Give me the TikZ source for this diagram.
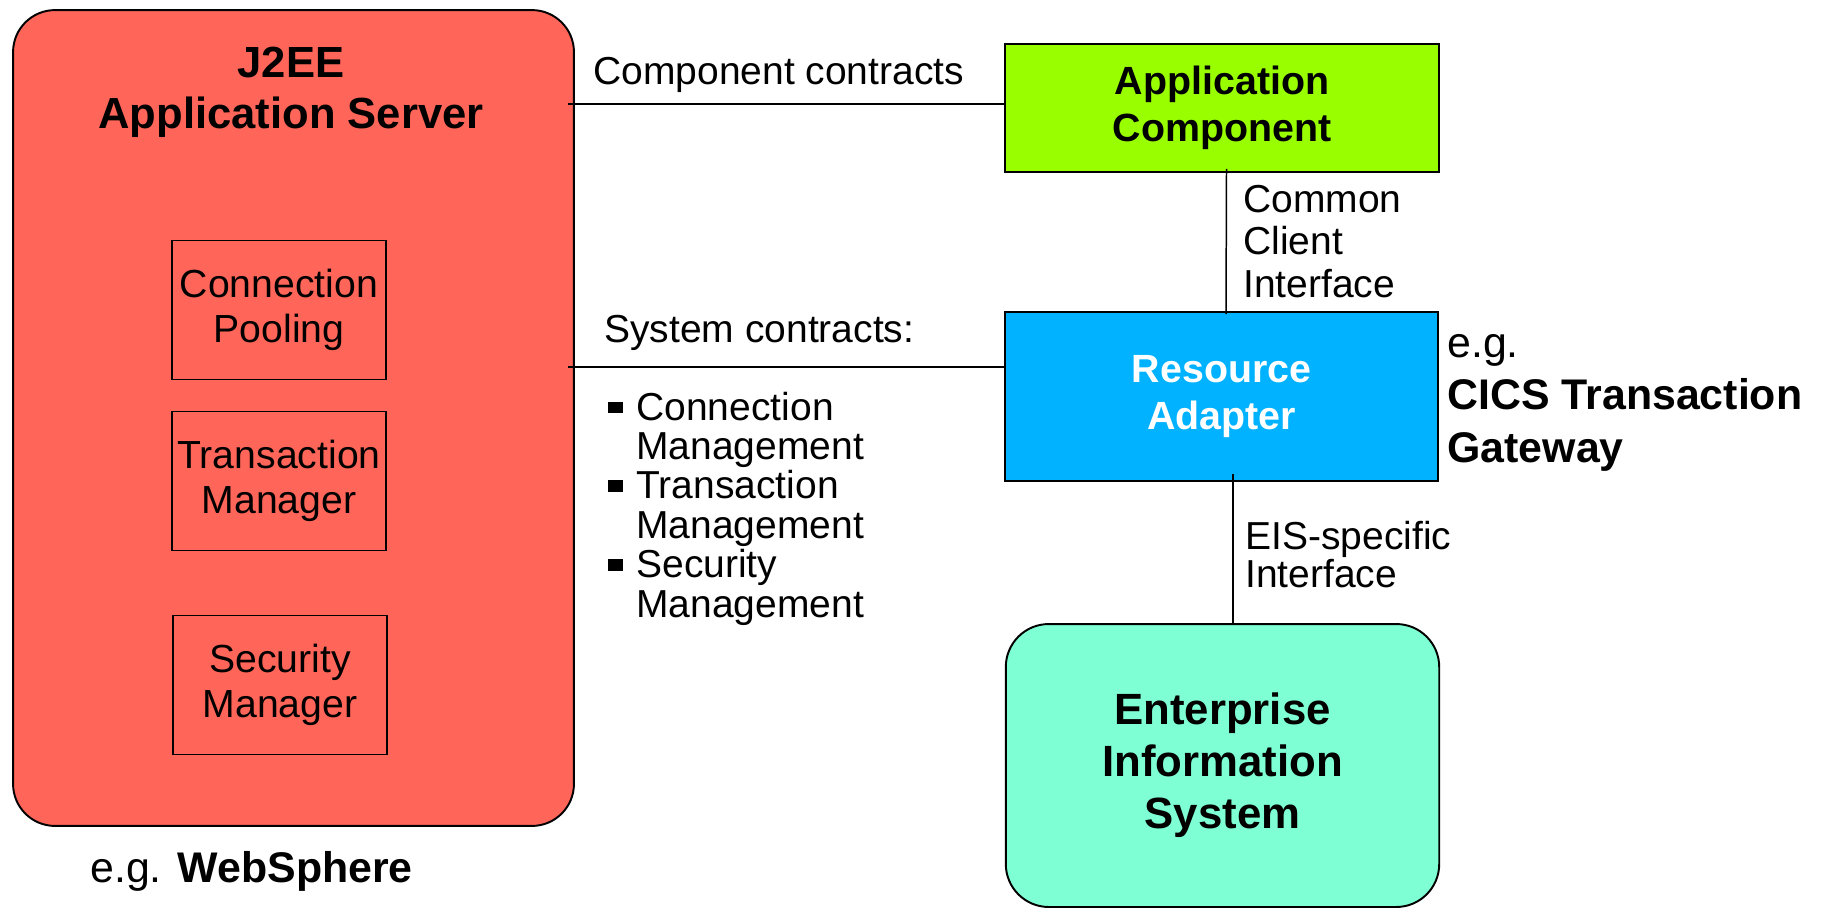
\documentclass[tikz,border=0pt]{standalone}
\usepackage{fontspec}
\setmainfont{Liberation Sans}
\definecolor{serverred}{RGB}{255,102,89}
\definecolor{compgreen}{RGB}{153,255,0}
\definecolor{adapterblue}{RGB}{0,178,255}
\definecolor{eisaqua}{RGB}{127,255,212}
\newcommand{\sqb}{\makebox[0.72em][l]{\rule[0.18em]{0.38em}{0.3em}}}
\tikzset{
  wire/.style={line width=0.85pt},
  svcbox/.style={draw,line width=0.9pt,minimum width=4.28cm,minimum height=2.78cm,
    align=center,inner sep=0pt,font=\fontsize{22.3pt}{25.5pt}\selectfont},
  unitbox/.style={draw,line width=1.1pt,minimum width=8.67cm,align=center,inner sep=0pt},
  plain/.style={inner sep=0pt,font=\fontsize{22.2pt}{25.5pt}\selectfont}
}
\begin{document}
\begin{tikzpicture}[x=0.02cm,y=-0.02cm]
\useasboundingbox (0,0) rectangle (1824,910);

% Application server with its services
\node[draw,line width=1.1pt,fill=serverred,rounded corners=0.84cm,
  minimum width=11.22cm,minimum height=16.32cm] (server) at (293.5,418) {};
\node[inner sep=0pt,anchor=base,align=center,
  font=\fontsize{24.8pt}{28.9pt}\selectfont\bfseries] (servertitle) at (291,128) {J2EE\\Application Server};
\node[svcbox] (pooling) at (279,310) {Connection\\Pooling};
\node[svcbox] (txmgr) at (279,481) {Transaction\\Manager};
\node[svcbox] (secmgr) at (280,685) {Security\\Manager};
\node[plain,anchor=base west,font=\fontsize{24.4pt}{29.8pt}\selectfont] (wasnote) at (90,882) {e.g. \textbf{WebSphere}};

% Right column
\node[unitbox,fill=compgreen,minimum height=2.56cm,
  font=\fontsize{22.4pt}{26.6pt}\selectfont\bfseries] (appcomp) at (1222,108) {Application\\Component};
\node[unitbox,fill=adapterblue,text=white,minimum height=3.38cm,
  font=\fontsize{22.4pt}{27.2pt}\selectfont\bfseries] (adapter) at (1221.5,396.5) {Resource\\Adapter};
\node[unitbox,fill=eisaqua,rounded corners=0.86cm,minimum height=5.66cm,
  font=\fontsize{24.9pt}{29.5pt}\selectfont\bfseries] (eis) at (1222.5,765.5) {Enterprise\\Information\\System};
\node[plain,anchor=base west,align=left,font=\fontsize{24.4pt}{29.8pt}\selectfont] (ctgnote) at (1447,462)
  {e.g.\\\textbf{CICS Transaction}\\\textbf{Gateway}};

% Contracts
\draw[wire,shorten >=-0.14cm] ([yshift=0.08cm]appcomp.west) -- ([yshift=0.08cm]appcomp.west -| server.east);
\node[plain,anchor=base west] (complabel) at (593,84) {Component contracts};
\draw[wire,shorten >=-0.14cm] ([yshift=0.59cm]adapter.west) -- ([yshift=0.59cm]adapter.west -| server.east);
\node[plain,anchor=base west] (syslabel) at (604,342) {System contracts:};
\node[plain,anchor=base west,align=left,font=\fontsize{22.2pt}{22.4pt}\selectfont] (syslist) at (608,617)
  {\sqb Connection\\\hspace{0.72em}Management\\\sqb Transaction\\\hspace{0.72em}Management\\\sqb Security\\\hspace{0.72em}Management};

% Interfaces
\draw[wire] ([xshift=0.09cm,yshift=0.08cm]appcomp.south) -- ([xshift=0.09cm,yshift=-0.06cm]adapter.north);
\node[plain,anchor=base west,align=left,font=\fontsize{22.2pt}{24.1pt}\selectfont] (ccilabel) at (1243,297) {Common\\Client\\Interface};
\draw[wire] ([xshift=0.23cm,yshift=0.16cm]adapter.south) -- ([xshift=0.23cm]adapter.south |- eis.north);
\node[plain,anchor=base west,align=left,font=\fontsize{22.2pt}{21.5pt}\selectfont] (eislabel) at (1245,587) {EIS-specific\\Interface};

\end{tikzpicture}
\end{document}
